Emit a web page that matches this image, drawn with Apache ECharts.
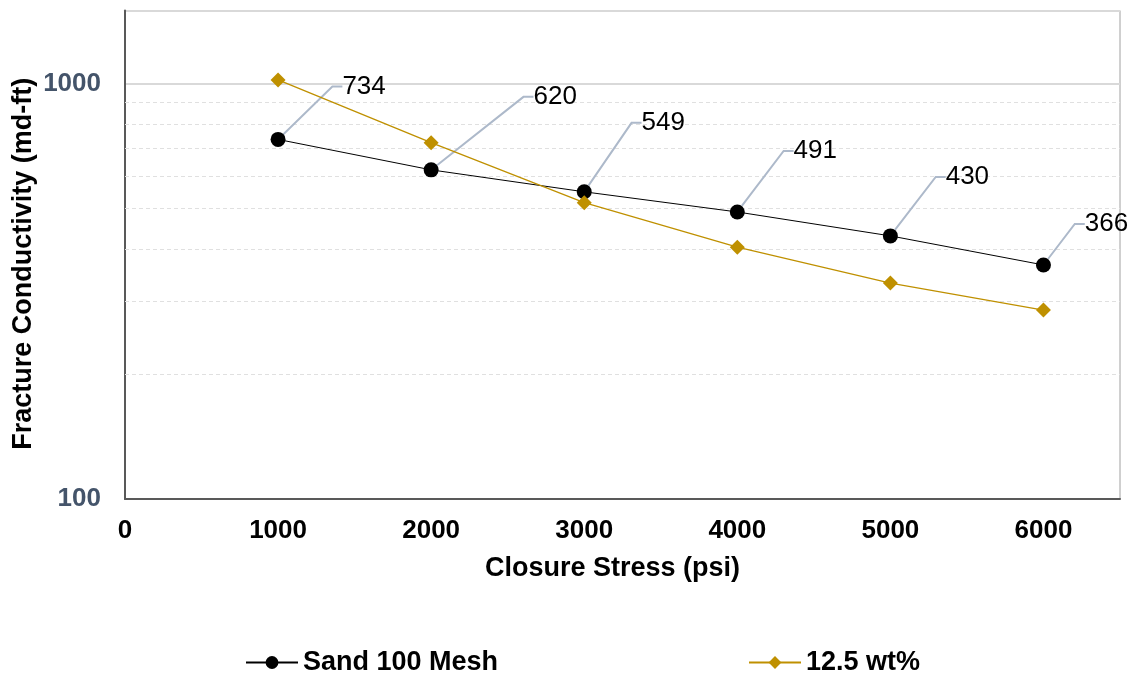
<!DOCTYPE html>
<html>
<head>
<meta charset="utf-8">
<script src="https://cdn.jsdelivr.net/npm/echarts@6/dist/echarts.min.js"></script>
<style>html,body{margin:0;padding:0;background:#fff;}#c{width:1132px;height:675px;}</style>
</head>
<body>
<div id="c"></div>
<script>
const xValues = [1000, 2000, 3000, 4000, 5000, 6000];
const sandValues = [734, 620, 549, 491, 430, 366];
const wtValues = [1021, 721, 517, 404, 331, 285];
const minorGridValues = [200, 300, 400, 500, 600, 700, 800, 900];
const seriesNames = ['Sand 100 Mesh', '12.5 wt%'];
const xTitle = 'Closure Stress (psi)';
const yTitle = 'Fracture Conductivity (md-ft)';

// label displacement (styling, not data)
const labelOffsets = [[82, -53], [120, -73], [75, -69], [74, -61], [73, -59], [59, -41]];

const FONT = "'Liberation Sans', Arial, sans-serif";
const chart = echarts.init(document.getElementById('c'));

const option = {
  animation: false,
  grid: { left: 125, right: 12, top: 10.5, bottom: 176, show: true, borderColor: '#a0a0a0', borderWidth: 1,
    containLabel: false, outerBoundsMode: 'none' },
  legend: [
    { data: [seriesNames[0]], left: 245, top: 649, padding: 0, itemWidth: 52, itemHeight: 16,
      textStyle: { fontFamily: FONT, fontSize: 27, fontWeight: 'bold', color: '#000' } },
    { data: [seriesNames[1]], left: 748, top: 649, padding: 0, itemWidth: 52, itemHeight: 16,
      textStyle: { fontFamily: FONT, fontSize: 27, fontWeight: 'bold', color: '#000' } }
  ],
  xAxis: {
    type: 'value', min: 0, max: 6500, interval: 1000,
    name: xTitle, nameLocation: 'middle', nameGap: 56, nameMoveOverlap: false,
    nameTextStyle: { fontFamily: FONT, fontSize: 27, fontWeight: 'bold', color: '#000', padding: [0, 20, 0, 0] },
    axisLine: { show: true, lineStyle: { color: '#595959', width: 2 } },
    axisTick: { show: false },
    splitLine: { show: false },
    axisLabel: { showMaxLabel: false, margin: 19, fontFamily: FONT, fontSize: 26, fontWeight: 'bold', color: '#000',
      formatter: v => String(v) }
  },
  yAxis: {
    type: 'log', logBase: 10, min: 100, max: 1500,
    name: yTitle, nameLocation: 'middle', nameGap: 88, nameRotate: 90, nameMoveOverlap: false,
    nameTextStyle: { fontFamily: FONT, fontSize: 27, fontWeight: 'bold', color: '#000', padding: [0, 18, 0, 0] },
    axisLine: { show: true, lineStyle: { color: '#595959', width: 2 } },
    axisTick: { show: false },
    splitLine: { show: true, lineStyle: { color: '#d9d9d9', width: 2 } },
    axisLabel: {
      margin: 24, fontFamily: FONT, fontSize: 26, fontWeight: 'bold', color: '#44546A',
      formatter: function (v) {
        const l = Math.log10(v);
        if (Math.abs(l - Math.round(l)) < 1e-6 && v < 1400) return String(Math.round(v));
        return '';
      }
    }
  },
  series: [
    {
      name: 'minor-grid', type: 'line', data: [], z: 1, silent: true,
      markLine: {
        silent: true, symbol: 'none', animation: false, z: 1,
        label: { show: false },
        lineStyle: { color: '#e0e0e0', type: [4, 3], width: 1 },
        data: minorGridValues.map(v => ({ yAxis: v }))
      }
    },
    {
      name: seriesNames[0], type: 'line',
      data: xValues.map((x, i) => [x, sandValues[i]]),
      symbol: 'circle', symbolSize: 15,
      itemStyle: { color: '#000' },
      lineStyle: { color: '#000', width: 1 },
      label: {
        show: true, position: 'inside', fontFamily: FONT, fontSize: 26, color: '#000',
        padding: [0, 0, 0, 8],
        formatter: p => String(p.value[1])
      },
      labelLayout: function (params) {
        const o = labelOffsets[params.dataIndex];
        return { dx: o[0], dy: o[1] };
      },
      labelLine: { show: true, length2: 10, lineStyle: { color: '#ADB9CA', width: 2 } },
      z: 3
    },
    {
      name: seriesNames[1], type: 'line',
      data: xValues.map((x, i) => [x, wtValues[i]]),
      symbol: 'diamond', symbolSize: 15,
      itemStyle: { color: '#BF9000' },
      lineStyle: { color: '#BF9000', width: 1.3 },
      z: 4
    }
  ]
};
chart.setOption(option);
</script>
</body>
</html>
